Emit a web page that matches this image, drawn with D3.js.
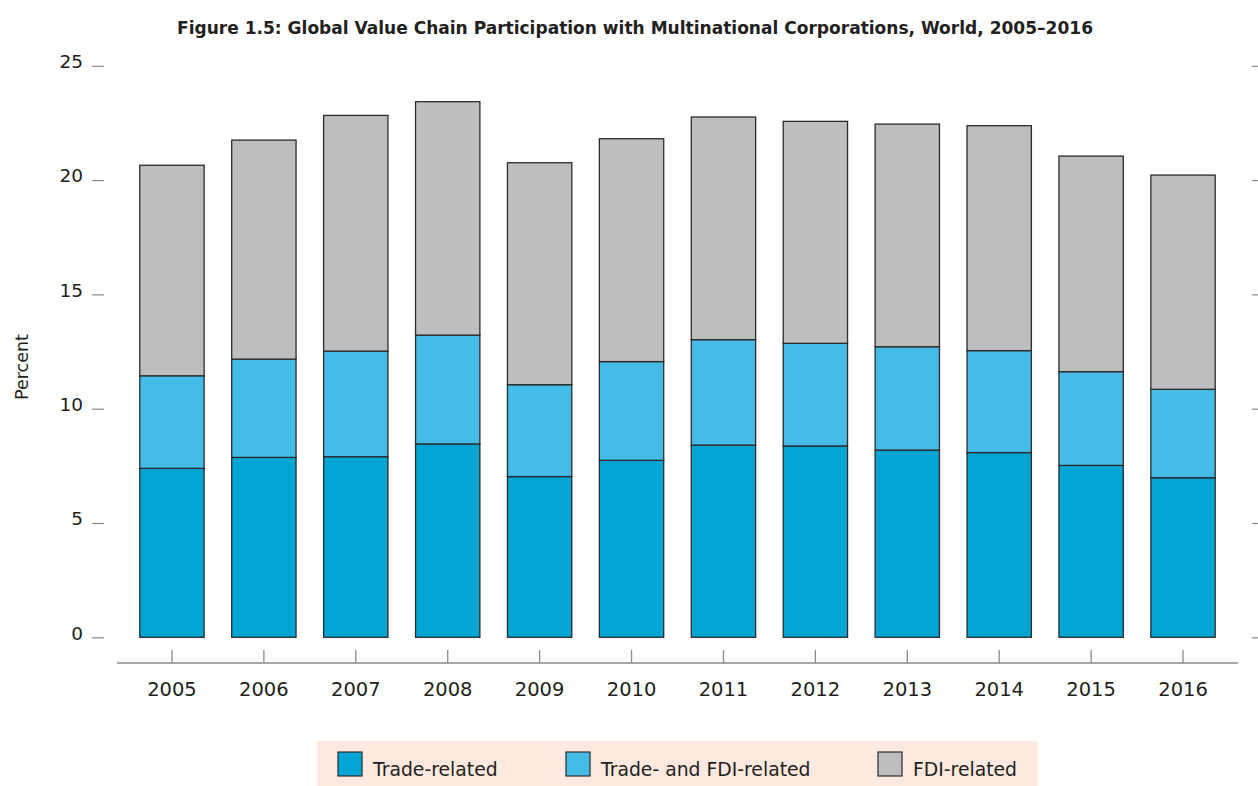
<!DOCTYPE html>
<html>
<head>
<meta charset="utf-8">
<script src="https://cdn.jsdelivr.net/npm/d3@7"></script>
<style>
  body { margin: 0; background: #fff; }
  text { font-family: "DejaVu Sans", sans-serif; fill: #231f20; }
</style>
</head>
<body>
<div class="chart-container"></div>
<script>
const svgWidth = 1258;
const svgHeight = 786;

const years = ["2005", "2006", "2007", "2008", "2009", "2010", "2011", "2012", "2013", "2014", "2015", "2016"];
const tradeRelated = [7.39, 7.87, 7.90, 8.46, 7.03, 7.74, 8.41, 8.37, 8.19, 8.08, 7.52, 6.98];
const tradeFdiRelated = [4.05, 4.30, 4.62, 4.76, 4.02, 4.32, 4.61, 4.49, 4.52, 4.46, 4.10, 3.87];
const fdiRelated = [9.21, 9.58, 10.31, 10.21, 9.71, 9.75, 9.74, 9.71, 9.74, 9.84, 9.43, 9.37];
const yTicks = [0, 5, 10, 15, 20, 25];
const seriesNames = ["Trade-related", "Trade- and FDI-related", "FDI-related"];
const seriesColors = ["#00a5d3", "#45bce8", "#bdbec0"];

const data = years.map(function(y, i) {
    return {year: y, trade: tradeRelated[i], both: tradeFdiRelated[i], fdi: fdiRelated[i]};
});

const svg = d3.select(".chart-container")
              .append("svg")
              .attr("width", svgWidth)
              .attr("height", svgHeight);

svg.append("text")
   .attr("x", 635)
   .attr("y", 34)
   .attr("text-anchor", "middle")
   .attr("textLength", 916)
   .attr("lengthAdjust", "spacingAndGlyphs")
   .style("font-family", "'DejaVu Sans Condensed', 'DejaVu Sans', sans-serif")
   .style("font-weight", "bold")
   .style("font-size", "18px")
   .text("Figure 1.5: Global Value Chain Participation with Multinational Corporations, World, 2005\u20132016");

const xScale = d3.scaleBand()
                 .domain(years)
                 .range([126, 1229])
                 .paddingInner(0.3)
                 .paddingOuter(0.15);

const yScale = d3.scaleLinear()
                 .domain([0, 25])
                 .range([637.3, 65.8]);

// left ticks
const yAxisLeft = d3.axisLeft(yScale).tickValues(yTicks).tickSize(12).tickPadding(9);
const gl = svg.append("g").attr("transform", "translate(104,0)").call(yAxisLeft);
gl.select(".domain").remove();
gl.selectAll("line").attr("stroke", "#8a8a8a").attr("stroke-width", 1.2);
gl.selectAll("text").style("font-size", "18.5px").attr("dy", "0.1em");

// right ticks
const yAxisRight = d3.axisRight(yScale).tickValues(yTicks).tickSize(6).tickFormat("");
const gr = svg.append("g").attr("transform", "translate(1252,0)").call(yAxisRight);
gr.select(".domain").remove();
gr.selectAll("line").attr("stroke", "#8a8a8a").attr("stroke-width", 1.2);

svg.append("text")
   .attr("transform", "translate(28,367) rotate(-90)")
   .attr("text-anchor", "middle")
   .style("font-size", "17.5px")
   .text("Percent");

const stack = d3.stack().keys(["trade", "both", "fdi"]);
const stacked = stack(data);

svg.append("g")
   .selectAll("g")
   .data(stacked)
   .enter().append("g")
   .attr("fill", function(d, i) { return seriesColors[i]; })
   .selectAll("rect")
   .data(function(d) { return d; })
   .enter().append("rect")
   .attr("x", function(d) { return xScale(d.data.year); })
   .attr("width", xScale.bandwidth())
   .attr("y", function(d) { return yScale(d[1]); })
   .attr("height", function(d) { return yScale(d[0]) - yScale(d[1]); })
   .attr("stroke", "#2b2b2b")
   .attr("stroke-width", 1.3);

// x axis
svg.append("line")
   .attr("x1", 117).attr("x2", 1238)
   .attr("y1", 663).attr("y2", 663)
   .attr("stroke", "#8a8a8a").attr("stroke-width", 1.3);

const xAxis = d3.axisTop(xScale).tickSize(13).tickFormat("");
const gx = svg.append("g").attr("transform", "translate(0,663)").call(xAxis);
gx.select(".domain").remove();
gx.selectAll("line").attr("stroke", "#8a8a8a").attr("stroke-width", 1.3);

svg.append("g")
   .selectAll("text")
   .data(years)
   .enter().append("text")
   .attr("x", function(d) { return xScale(d) + xScale.bandwidth() / 2; })
   .attr("y", 696)
   .attr("text-anchor", "middle")
   .style("font-size", "19.5px")
   .text(function(d) { return d; });

// legend
svg.append("rect")
   .attr("x", 317).attr("y", 741)
   .attr("width", 721).attr("height", 45)
   .attr("fill", "#fde9df");

const legendX = [338, 566, 878];
const lg = svg.append("g")
   .selectAll("g")
   .data(seriesNames)
   .enter().append("g")
   .attr("transform", function(d, i) { return "translate(" + legendX[i] + ",752)"; });

lg.append("rect")
  .attr("width", 24).attr("height", 24)
  .attr("fill", function(d, i) { return seriesColors[i]; })
  .attr("stroke", "#2b2b2b").attr("stroke-width", 1.2);

lg.append("text")
  .attr("x", 35).attr("y", 24)
  .style("font-size", "18.8px")
  .text(function(d) { return d; });
</script>
</body>
</html>
